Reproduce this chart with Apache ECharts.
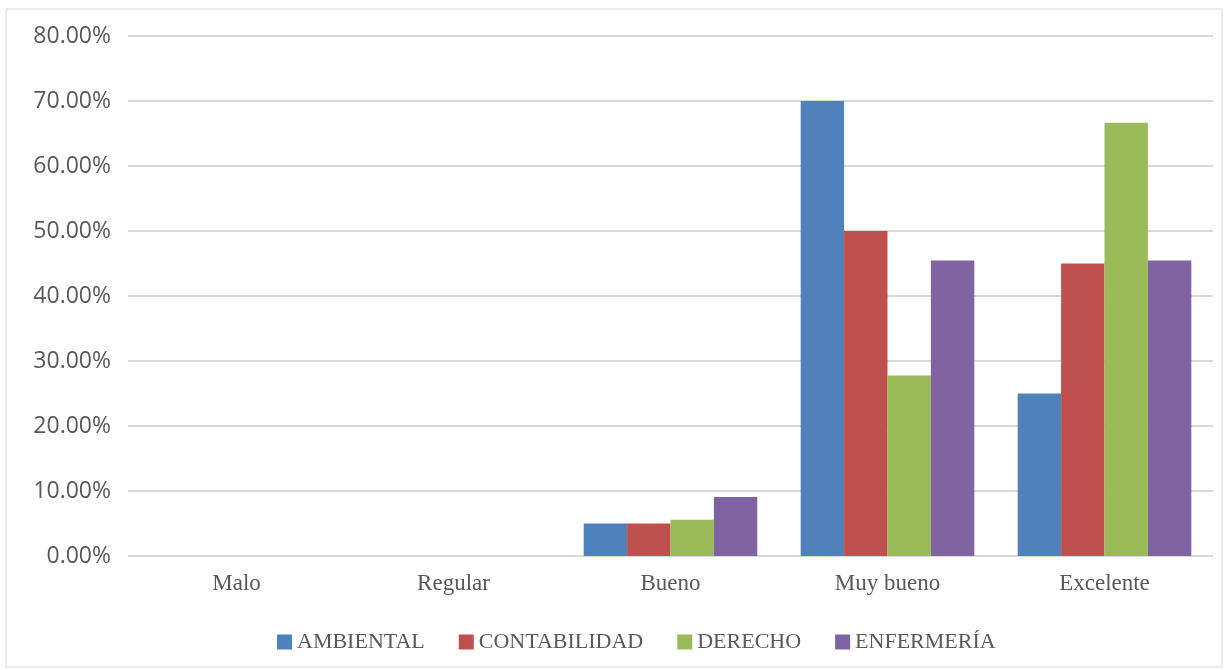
<!DOCTYPE html>
<html>
<head>
<meta charset="utf-8">
<script src="https://cdn.jsdelivr.net/npm/echarts@6/dist/echarts.min.js"></script>
<style>html,body{margin:0;padding:0;background:#fff}#c{width:1228px;height:670px}</style>
</head>
<body>
<div id="c"></div>
<script>
const categories = ['Malo', 'Regular', 'Bueno', 'Muy bueno', 'Excelente'];
const seriesNames = ['AMBIENTAL', 'CONTABILIDAD', 'DERECHO', 'ENFERMERÍA'];
const ambiental = [0, 0, 5.00, 70.00, 25.00];
const contabilidad = [0, 0, 5.00, 50.00, 45.00];
const derecho = [0, 0, 5.56, 27.78, 66.67];
const enfermeria = [0, 0, 9.09, 45.45, 45.45];
const yTicks = [0, 10, 20, 30, 40, 50, 60, 70, 80];

const colors = ['#4f81bd', '#c0504d', '#9bbb59', '#8064a2'];
const values = [ambiental, contabilidad, derecho, enfermeria];
const chart = echarts.init(document.getElementById('c'));
chart.setOption({
  animation: false,
  color: colors,
  graphic: [{type: 'rect', shape: {x: 6, y: 9, width: 1216, height: 658}, style: {fill: 'none', stroke: '#d9d9d9', lineWidth: 1}, silent: true}],
  grid: {left: 128, right: 15, top: 36, bottom: 114},
  legend: {
    data: seriesNames, top: 626, left: 272, itemWidth: 15, itemHeight: 15, itemGap: 34,
    icon: 'rect',
    textStyle: {fontFamily: 'Liberation Serif', fontSize: 22, color: '#595959', padding: [0, 0, 0, 0]}
  },
  xAxis: {
    type: 'category', data: categories,
    axisLine: {show: false}, axisTick: {show: false},
    axisLabel: {fontFamily: 'Liberation Serif', fontSize: 23, color: '#595959', margin: 16}
  },
  yAxis: {
    type: 'value', min: yTicks[0], max: yTicks[yTicks.length - 1], interval: 10,
    axisLine: {show: false}, axisTick: {show: false},
    axisLabel: {fontFamily: 'Open Sans', fontSize: 23, color: '#595959', margin: 17, formatter: v => v.toFixed(2) + '%'},
    splitLine: {lineStyle: {color: '#d9d9d9', width: 2}}
  },
  series: seriesNames.map((n, i) => ({
    name: n, type: 'bar', data: values[i], barGap: '0%', barCategoryGap: '20%',
    itemStyle: {color: colors[i]}
  }))
});
</script>
</body>
</html>
